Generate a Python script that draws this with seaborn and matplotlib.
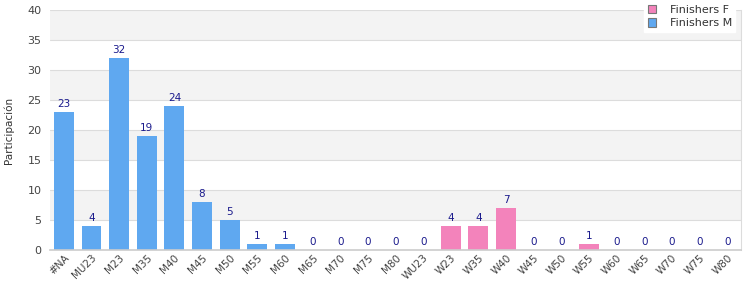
import matplotlib
matplotlib.use("Agg")
import matplotlib.pyplot as plt
import seaborn as sns
import pandas as pd
from matplotlib.patches import Patch

categories = ["#NA", "MU23", "M23", "M35", "M40", "M45", "M50", "M55", "M60", "M65",
              "M70", "M75", "M80", "WU23", "W23", "W35", "W40", "W45", "W50", "W55",
              "W60", "W65", "W70", "W75", "W80"]
values = [23, 4, 32, 19, 24, 8, 5, 1, 1, 0, 0, 0, 0, 0, 4, 4, 7, 0, 0, 1, 0, 0, 0, 0, 0]
series = ["Finishers M"] * 13 + ["Finishers F"] * 12
yticks = [0, 5, 10, 15, 20, 25, 30, 35, 40]

colors = {"Finishers F": "#f383bb", "Finishers M": "#5fa8f0"}

df = pd.DataFrame({"cat": categories, "val": values, "series": series})

sns.set_style("white")
plt.rcParams["font.family"] = ["DejaVu Sans"]

fig = plt.figure(figsize=(7.5, 3), dpi=100)
ax = fig.add_axes([50 / 750, 50 / 300, 691 / 750, 240 / 300])

# background bands
for i in range(0, 40, 5):
    if (i // 5) % 2 == 1:
        ax.axhspan(i, i + 5, color="#f3f3f3", zorder=0, lw=0)
for y in yticks[1:]:
    ax.axhline(y, color="#dcdcdc", lw=0.8, zorder=0.5)

sns.barplot(data=df, x="cat", y="val", hue="series", dodge=False, palette=colors,
            order=categories, hue_order=["Finishers F", "Finishers M"],
            width=0.72, ax=ax, legend=False, saturation=1, zorder=2,
            linewidth=0, edgecolor="none")

for i, v in enumerate(values):
    ax.text(i, v + 0.55, str(v), ha="center", va="bottom", fontsize=7.5, color="#1a1a8c", zorder=3)

ax.set_ylim(0, 40)
ax.set_xlim(-0.5, len(categories) - 0.5)
ax.set_yticks(yticks)
ax.set_xlabel("")
ax.set_ylabel("Participación", fontsize=7.5, color="#333333", labelpad=10)
ax.tick_params(axis="y", labelsize=8, colors="#444444", length=0, pad=6)
ax.tick_params(axis="x", labelsize=7.5, colors="#444444", length=0, pad=2)
plt.setp(ax.get_xticklabels(), rotation=45, ha="right", rotation_mode="anchor")

for s in ["top", "left"]:
    ax.spines[s].set_visible(False)
ax.spines["right"].set_color("#dcdcdc")
ax.spines["bottom"].set_color("#cccccc")
ax.spines["bottom"].set_linewidth(1.2)

handles = [Patch(facecolor=colors["Finishers F"], edgecolor="#777777", lw=0.8, label="Finishers F"),
           Patch(facecolor=colors["Finishers M"], edgecolor="#777777", lw=0.8, label="Finishers M")]
leg = ax.legend(handles=handles, loc="upper right", bbox_to_anchor=(0.995, 1.045),
                fontsize=8, frameon=True, fancybox=False, framealpha=1,
                edgecolor="white", handlelength=0.8, handleheight=0.8,
                borderpad=0.3, labelspacing=0.3, handletextpad=1.2, borderaxespad=0.2)
for t in leg.get_texts():
    t.set_color("#333333")
leg.set_zorder(5)

fig.savefig("out.png", dpi=100, facecolor="white")
